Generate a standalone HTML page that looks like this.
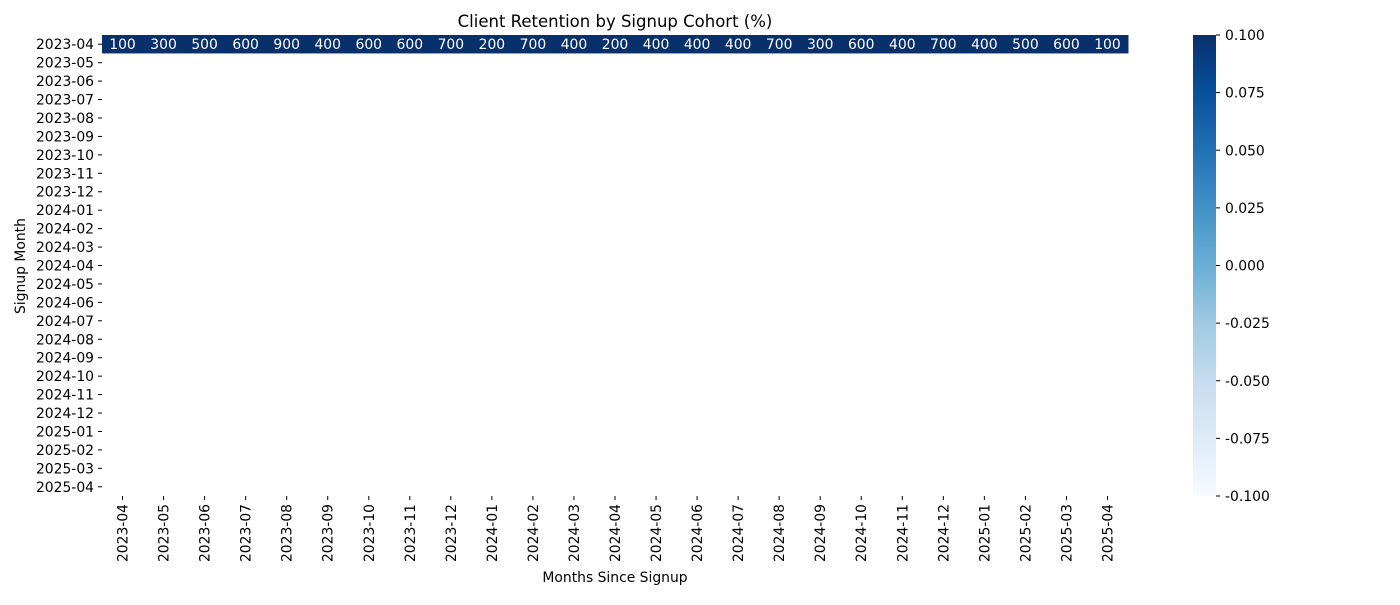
<!DOCTYPE html>
<html><head><meta charset="utf-8"><style>
body{margin:0;background:#fff;}
svg text{font-family:"DejaVu Sans","Liberation Sans",sans-serif;}
</style></head><body>
<svg id="chart" width="1400" height="600" xmlns="http://www.w3.org/2000/svg">
<defs><linearGradient id="cbg" x1="0" y1="1" x2="0" y2="0">
<stop offset="0" stop-color="#f7fbff"/><stop offset="0.125" stop-color="#deebf7"/><stop offset="0.25" stop-color="#c6dbef"/><stop offset="0.375" stop-color="#9ecae1"/><stop offset="0.5" stop-color="#6baed6"/><stop offset="0.625" stop-color="#4292c6"/><stop offset="0.75" stop-color="#2171b5"/><stop offset="0.875" stop-color="#08519c"/><stop offset="1" stop-color="#08306b"/></linearGradient></defs>
<text x="615" y="27" font-size="16.5" text-anchor="middle">Client Retention by Signup Cohort (%)</text>
<text x="615" y="582" font-size="13.9" text-anchor="middle">Months Since Signup</text>
<text transform="translate(25,266) rotate(-90)" font-size="13.9" text-anchor="middle">Signup Month</text>
<g id="cells"></g><g id="xt"></g><g id="yt"></g>
<rect x="1193" y="35" width="23" height="461" fill="url(#cbg)"/>
<g id="cb"></g>
</svg>
<script>
const months = ["2023-04","2023-05","2023-06","2023-07","2023-08","2023-09","2023-10","2023-11","2023-12","2024-01","2024-02","2024-03","2024-04","2024-05","2024-06","2024-07","2024-08","2024-09","2024-10","2024-11","2024-12","2025-01","2025-02","2025-03","2025-04"];
const row0Values = [100,300,500,600,900,400,600,600,700,200,700,400,200,400,400,400,700,300,600,400,700,400,500,600,100];
const cbTicks = [0.100,0.075,0.050,0.025,0.000,-0.025,-0.050,-0.075,-0.100];
const NS="http://www.w3.org/2000/svg";
const X0=102,X1=1128,Y0=35,Y1=496;
const FS=13.9;
const cw=(X1-X0)/months.length, rh=(Y1-Y0)/months.length;
const xPos=i=>X0+i*cw, yPos=i=>Y0+i*rh;
function mk(t,a,p){const e=document.createElementNS(NS,t);for(const k in a)e.setAttribute(k,a[k]);p.appendChild(e);return e;}
const cells=document.getElementById('cells'),xt=document.getElementById('xt'),yt=document.getElementById('yt'),cb=document.getElementById('cb');
row0Values.forEach((v,i)=>{
  const r=mk('rect',{x:xPos(i),y:yPos(0),width:cw+0.5,height:rh,fill:'#08306b'},cells);
  
  
  const t=mk('text',{x:xPos(i)+cw/2,y:yPos(0)+rh/2+5,'font-size':FS,'text-anchor':'middle',fill:'#fff'},cells);
  t.textContent=v;
  
  
});
months.forEach((m,i)=>{
  const cx=xPos(i)+cw/2;
  mk('line',{x1:cx,x2:cx,y1:Y1,y2:Y1+4,stroke:'#000'},xt);
  const t=mk('text',{transform:`translate(${cx+5},${Y1+8}) rotate(-90)`,'font-size':FS,'text-anchor':'end'},xt);
  t.textContent=m;
  
  
  const cy=yPos(i)+rh/2;
  mk('line',{x1:X0-4,x2:X0,y1:cy,y2:cy,stroke:'#000'},yt);
  const u=mk('text',{x:X0-8,y:cy+5,'font-size':FS,'text-anchor':'end'},yt);
  u.textContent=m;
  
  
});
cbTicks.forEach(v=>{
  const y=Y0+(0.1-v)/0.2*(Y1-Y0);
  mk('line',{x1:1216,x2:1220,y1:y,y2:y,stroke:'#000'},cb);
  const t=mk('text',{x:1225,y:y+5,'font-size':FS},cb);
  t.textContent=v.toFixed(3);
  
  
});
</script>
</body></html>
